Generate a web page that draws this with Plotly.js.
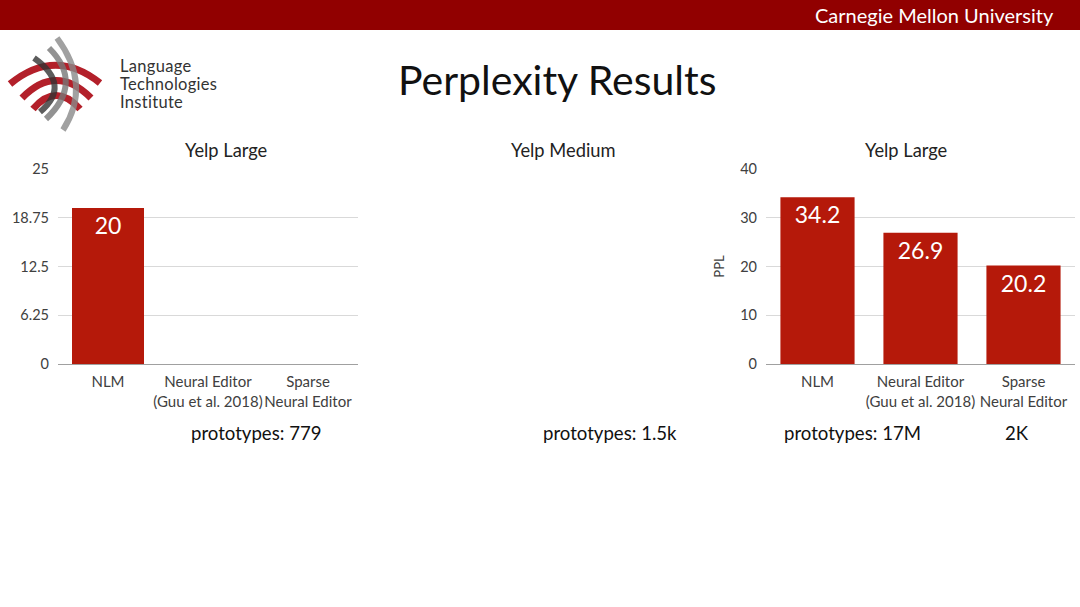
<!DOCTYPE html>
<html>
<head>
<meta charset="utf-8">
<script src="https://cdn.plot.ly/plotly-3.0.1.min.js"></script>
<style>
  html, body { margin: 0; padding: 0; background: #fff; }
  #wrap { position: relative; width: 1080px; height: 607px; overflow: hidden; }
  #chart { position: absolute; left: 0; top: 0; width: 1080px; height: 607px; }
  #logo { position: absolute; left: 0; top: 30px; width: 240px; height: 110px; }
</style>
</head>
<body>
<div id="wrap">
  <div id="chart"></div>
  <!-- LTI logo: red arcs crossed by grey arcs -->
  <svg id="logo" viewBox="0 30 240 110">
    <g fill="none" stroke-linecap="butt">
      <path d="M 10 84 Q 55 47 100 83" stroke="#b3202a" stroke-width="7"/>
      <path d="M 22 98 Q 56 63 91 98" stroke="#b3202a" stroke-width="7"/>
      <path d="M 33 109 Q 56 82 80 109" stroke="#b3202a" stroke-width="7"/>
      <path d="M 57 38 Q 92 85 63 130" stroke="#8a8a8a" stroke-width="6" stroke-opacity="0.8"/>
      <path d="M 49 48 Q 84 83 46 119" stroke="#777" stroke-width="6" stroke-opacity="0.8"/>
      <path d="M 34 58 Q 72 85 40 112" stroke="#333" stroke-width="6" stroke-opacity="0.8"/>
    </g>
    <g font-family="Lato, 'Open Sans', sans-serif" font-size="16.5" fill="#333">
      <text x="120" y="72" letter-spacing="0.3">Language</text>
      <text x="120" y="90" letter-spacing="0.3">Technologies</text>
      <text x="120" y="108" letter-spacing="0.3">Institute</text>
    </g>
  </svg>
</div>
<script>
const CATEGORIES = ["NLM", "Neural Editor<br>(Guu et al. 2018)", "Sparse<br>Neural Editor"];
const LARGE_LEFT_PPL = [20, null, null];
const LARGE_RIGHT_PPL = [34.2, 26.9, 20.2];
const LEFT_TICKS = [0, 6.25, 12.5, 18.75, 25];
const RIGHT_TICKS = [0, 10, 20, 30, 40];
const PANEL_TITLES = ["Yelp Large", "Yelp Medium", "Yelp Large"];
const PROTO_NOTES = ["prototypes: 779", "prototypes: 1.5k", "prototypes: 17M", "2K"];

const BAR_RED = "#b5190a";
const FONT = "Lato, 'Open Sans', sans-serif";
const W = 1080, H = 607;

// pixel helpers -> paper fractions
const px = x => x / W;
const py = y => (H - y) / H;

function barTrace(values, xa, ya) {
  return {
    x: CATEGORIES, y: values, type: "bar", xaxis: xa, yaxis: ya,
    marker: { color: BAR_RED }, width: 0.72,
    text: values.map(v => v == null ? "" : String(v)),
    textposition: "inside", insidetextanchor: "end", constraintext: "none",
    textfont: { family: FONT, size: 23, color: "#ffffff" },
    hoverinfo: "skip", showlegend: false,
  };
}

const catAxis = domain => ({
  domain, type: "category", showgrid: false, zeroline: false,
  showline: true, linecolor: "#a0a0a0", linewidth: 1, ticks: "",
  ticklabelstandoff: 4, tickangle: 0,
  tickfont: { family: FONT, size: 15, color: "#404040" }, fixedrange: true,
});
const valAxis = (domain, ticks, title) => ({
  domain, range: [0, ticks[ticks.length - 1]], tickvals: ticks,
  ticktext: ticks.map(String), showgrid: true, gridcolor: "#d9d9d9",
  zeroline: false, showline: false, ticks: "", ticklabelstandoff: 8,
  tickfont: { family: FONT, size: 14.5, color: "#404040" },
  title: title ? { text: title, font: { family: FONT, size: 13, color: "#404040" }, standoff: 12 } : undefined,
  fixedrange: true,
});

const yDom = [py(364), py(169)];

const annotations = [
  { text: "Perplexity Results", x: px(557), y: py(80), font: { size: 41, color: "#111" } },
  { text: "Carnegie Mellon University", x: px(1056), y: py(15), xanchor: "right", font: { size: 20, color: "#ffffff" } },
  { text: PANEL_TITLES[0], x: px(226), y: py(150), font: { size: 18.3, color: "#222" } },
  { text: PANEL_TITLES[1], x: px(563), y: py(150), font: { size: 18.3, color: "#222" } },
  { text: PANEL_TITLES[2], x: px(906), y: py(150), font: { size: 18.3, color: "#222" } },
  { text: PROTO_NOTES[0], x: px(256), y: py(433), font: { size: 18.6, color: "#111" } },
  { text: PROTO_NOTES[1], x: px(610), y: py(433), font: { size: 18.6, color: "#111" } },
  { text: PROTO_NOTES[2], x: px(852), y: py(433), font: { size: 18.6, color: "#111" } },
  { text: PROTO_NOTES[3], x: px(1017), y: py(433), font: { size: 18.6, color: "#111" } },
].map(a => Object.assign({ xref: "paper", yref: "paper", showarrow: false, xanchor: "center", yanchor: "middle" }, a,
  { font: Object.assign({ family: FONT }, a.font) }));

const layout = {
  width: W, height: H,
  margin: { l: 0, r: 0, t: 0, b: 0 },
  paper_bgcolor: "#ffffff", plot_bgcolor: "rgba(0,0,0,0)",
  font: { family: FONT },
  bargap: 0.28,
  xaxis: catAxis([px(58), px(358)]),
  yaxis: valAxis(yDom, LEFT_TICKS),
  xaxis2: Object.assign(catAxis([px(766), px(1075)]), { anchor: "y2" }),
  yaxis2: Object.assign(valAxis(yDom, RIGHT_TICKS, "PPL"), { anchor: "x2" }),
  shapes: [
    { type: "rect", xref: "paper", yref: "paper", x0: 0, x1: 1, y0: py(30), y1: 1,
      fillcolor: "#910000", line: { width: 0 }, layer: "below" },
  ],
  annotations,
};

Plotly.newPlot("chart", [
  barTrace(LARGE_LEFT_PPL, "x", "y"),
  barTrace(LARGE_RIGHT_PPL, "x2", "y2"),
], layout, { staticPlot: true, displayModeBar: false });
</script>
</body>
</html>
